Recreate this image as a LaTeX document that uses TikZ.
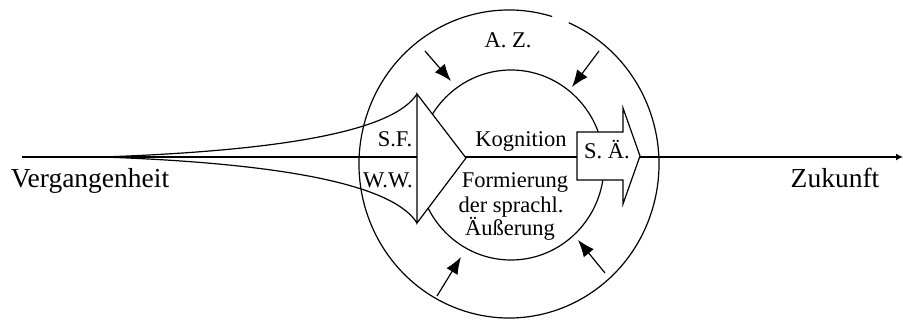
\documentclass[tikz,border=0pt]{standalone}
\usepackage{fontspec}
\setmainfont{Liberation Serif}
\usetikzlibrary{arrows.meta,shapes.geometric}
\begin{document}
\begin{tikzpicture}[x=1pt,y=-1pt,line width=1.2pt,
  big/.style={font=\fontsize{27.5}{30}\selectfont,anchor=base,inner sep=0pt},
  small/.style={font=\fontsize{22.5}{26}\selectfont,anchor=base,inner sep=0pt},
  push/.style={-{Latex[length=17pt,width=13pt]}},
  whitebox/.style={draw,fill=white,line join=miter}]
\useasboundingbox (0,0) rectangle (903,320);
% main time line
\coordinate (L) at (22,157);
\coordinate (R) at (903,157);
\draw[-{Latex[length=7pt,width=7pt]}] (L) -- (R);
% trumpet
\coordinate (S) at (103,157);
\coordinate (tt) at (417,94);
\coordinate (tb) at (417,223);
\coordinate (tip) at (466,158);
\draw (S) .. controls (300,150) and (395,128) .. (tt);
\draw (S) .. controls (300,164) and (395,188) .. (tb);
% circles
\coordinate (O) at (509,164);
\draw ([shift={(-73.3:150 and 154)}]O) arc[start angle=-73.3,end angle=-426.5,x radius=150,y radius=154];
\node[draw,ellipse,minimum width=186pt,minimum height=190pt,inner sep=0pt] (inner) at (511,165) {};
% big triangle
\draw[whitebox] (tt) -- (tip) -- (tb) -- cycle;
% S. Ä. arrow
\draw[whitebox] (577,132) -- (623,132) -- (623,108) -- (640,156) -- (623,204) -- (623,180) -- (577,180) -- cycle;
% influence arrows
\coordinate (a1) at (425,51);   \coordinate (b1) at (451,81);
\coordinate (a2) at (599,51);   \coordinate (b2) at (572,87);
\coordinate (a3) at (437,296);  \coordinate (b3) at (461,257);
\coordinate (a4) at (605,273);  \coordinate (b4) at (578,240);
\draw[push] (a1) -- (b1);
\draw[push] (a2) -- (b2);
\draw[push] (a3) -- (b3);
\draw[push] (a4) -- (b4);
% texts
\node[big] (past) at (90,188) {Vergangenheit};
\node[big] (fut) at (835,188) {Zukunft};
\node[small] (az) at (508,48) {A. Z.};
\node[small] (sf) at (395,147) {S.F.};
\node[small] (ww) at (388,188) {W.W.};
\node[small] (kog) at (521,147) {Kognition};
\node[small] (f1) at (515,188) {Formierung};
\node[small] (f2) at (511,213) {der sprachl.};
\node[small] (f3) at (510,236) {Äußerung};
\node[small] (sa) at (607,159) {S. Ä.};
\end{tikzpicture}
\end{document}
